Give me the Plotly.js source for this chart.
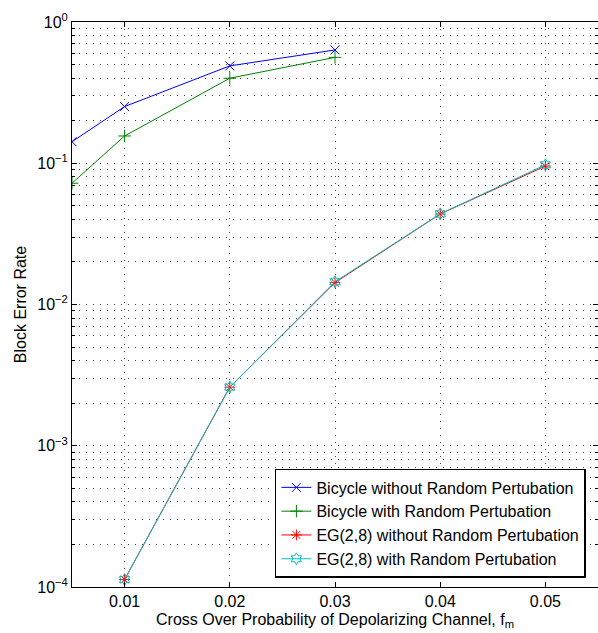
<!DOCTYPE html>
<html>
<head>
<meta charset="utf-8">
<script src="https://cdn.plot.ly/plotly-3.0.1.min.js"></script>
<style>html,body{margin:0;padding:0;background:#fff;}#chart{width:598px;height:633px;}</style>
</head>
<body>
<div id="chart"></div>
<script>
// Data
const xBicycle = [0.005, 0.01, 0.02, 0.03];
const bicycleWithout = [0.142, 0.252, 0.489, 0.634];
const bicycleWith = [0.0722, 0.156, 0.400, 0.562];
const xEG = [0.01, 0.02, 0.03, 0.04, 0.05];
const egWithout = [1.13e-4, 2.6e-3, 0.0143, 0.0437, 0.0955];
const egWith = [1.13e-4, 2.6e-3, 0.0145, 0.0438, 0.0975];
const seriesNames = [
  "Bicycle without Random Pertubation",
  "Bicycle with Random Pertubation",
  "EG(2,8) without Random Pertubation",
  "EG(2,8) with Random Pertubation"
];
const xTickVals = [0.01, 0.02, 0.03, 0.04, 0.05];
const xTickText = ["0.01", "0.02", "0.03", "0.04", "0.05"];
const yTickVals = [1e-4, 1e-3, 1e-2, 1e-1, 1];
const yTickText = ["10<sup>\u22124</sup>", "10<sup>\u22123</sup>", "10<sup>\u22122</sup>", "10<sup>\u22121</sup>", "10<sup>0</sup>"];

const FONT = "Liberation Sans, Arial, sans-serif";
const FS = 16;
const GRIDDASH = "1px,6px";
const GRIDCOLOR = "#444";

function tr(x, y, name, color, symbol) {
  return {
    x: x, y: y, name: name, type: "scatter", mode: "lines+markers",
    line: {color: color, width: 1},
    marker: {symbol: symbol, size: 9, color: color, line: {color: color, width: 1}}
  };
}

const data = [
  tr(xBicycle, bicycleWithout, seriesNames[0], "#0000ff", "x-thin-open"),
  tr(xBicycle, bicycleWith, seriesNames[1], "#008000", "cross-thin-open"),
  tr(xEG, egWithout, seriesNames[2], "#ff0000", "asterisk-open"),
  tr(xEG, egWith, seriesNames[3], "#00bfbf", "hexagram-open")
];

const layout = {
  width: 598, height: 633,
  margin: {l: 72, r: 0, t: 22, b: 46},
  paper_bgcolor: "#fff", plot_bgcolor: "#fff",
  font: {family: FONT, size: FS, color: "#000"},
  showlegend: true,
  legend: {
    x: 0.977, y: 0.016, xanchor: "right", yanchor: "bottom",
    bgcolor: "#fff", bordercolor: "#000", borderwidth: 1.5,
    font: {family: FONT, size: FS, color: "#000"},
    tracegroupgap: 0, itemwidth: 30
  },
  xaxis: {
    range: [0.005, 0.055],
    tickvals: xTickVals, ticktext: xTickText,
    ticks: "inside", ticklen: 5, tickcolor: "#000",
    showline: true, linecolor: "#000", linewidth: 1, mirror: "allticks",
    showgrid: true, gridcolor: GRIDCOLOR, griddash: GRIDDASH, gridwidth: 1,
    zeroline: false,
    tickfont: {family: FONT, size: FS},
    title: {text: "Cross Over Probability of Depolarizing Channel, f<sub>m</sub>", font: {family: FONT, size: FS}, standoff: 4}
  },
  yaxis: {
    type: "log", range: [-4, 0],
    tickvals: yTickVals, ticktext: yTickText,
    ticks: "inside", ticklen: 5, tickcolor: "#000",
    showline: true, linecolor: "#000", linewidth: 1, mirror: "allticks",
    showgrid: true, gridcolor: GRIDCOLOR, griddash: GRIDDASH, gridwidth: 1,
    zeroline: false,
    tickfont: {family: FONT, size: FS},
    minor: {dtick: "D1", ticks: "inside", ticklen: 3, tickcolor: "#000", showgrid: true, gridcolor: GRIDCOLOR, griddash: GRIDDASH, gridwidth: 1},
    title: {text: "Block Error Rate", font: {family: FONT, size: FS}, standoff: 6}
  }
};

Plotly.newPlot("chart", data, layout, {displayModeBar: false, staticPlot: true});
</script>
</body>
</html>
